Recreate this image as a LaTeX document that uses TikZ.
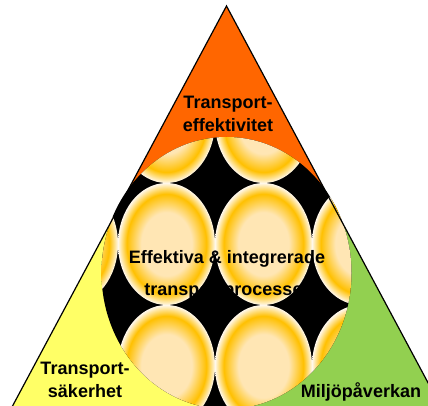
\documentclass[tikz,border=0pt]{standalone}
\usepackage{fontspec}
\setmainfont{Liberation Sans}
\definecolor{topfill}{HTML}{FF6600}
\definecolor{leftfill}{HTML}{FFFF66}
\definecolor{rightfill}{HTML}{92D050}
\definecolor{beadcream}{HTML}{FFE6B4}
\definecolor{beadgold}{HTML}{FFC000}
\definecolor{beadrim}{HTML}{FFF8EC}
\pgfdeclareradialshading{bead}{\pgfpoint{0bp}{0bp}}{color(0bp)=(beadcream); color(13bp)=(beadcream); color(20.5bp)=(beadgold); color(25bp)=(beadrim); color(50bp)=(beadrim)}
\tikzset{lbl/.style={font=\fontsize{18}{23}\selectfont\bfseries,align=center,inner sep=0pt,anchor=base}}

\begin{document}
\begin{tikzpicture}[x=1pt,y=-1pt]
    \useasboundingbox (0,0) rectangle (428,406);
    \clip (0,0) rectangle (428,406);
    \coordinate (apex) at (226.5,6);
    \coordinate (bl) at (-0.3,430);
    \coordinate (br) at (453.3,430);
    \coordinate (ml) at (122.7,200);
    \coordinate (mr) at (330.3,200);
    \coordinate (mc) at (226.5,200);
    \coordinate (bc) at (226.5,430);

    \fill[leftfill] (ml) -- (mc) -- (bc) -- (bl) -- cycle;
    \fill[rightfill] (mc) -- (mr) -- (br) -- (bc) -- cycle;
    \fill[topfill] (apex) -- (ml) -- (mr) -- cycle;

    \begin{scope}
        \clip (226.5,273) ellipse (125 and 136);
        \fill[black] (95,130) rectangle (360,410);
        \foreach \x in {69.5,166.5,263.5,360.5}
            \foreach \y in {122,244,366}
                \shade[shading=bead] (\x,\y) ellipse (48.5 and 61);
    \end{scope}

    \draw[line width=1.2pt] (bl) -- (apex) -- (br);

    \node[lbl] (eff) at (228,132) {Transport-\\effektivitet};
    \node[lbl] (proc) at (227,295) {Effektiva \& integrerade\\[9pt]transportprocesser};
    \node[lbl] (sak) at (85,397) {Transport-\\säkerhet};
    \node[lbl] (milj) at (361,397) {Miljöpåverkan};
\end{tikzpicture}
\end{document}
